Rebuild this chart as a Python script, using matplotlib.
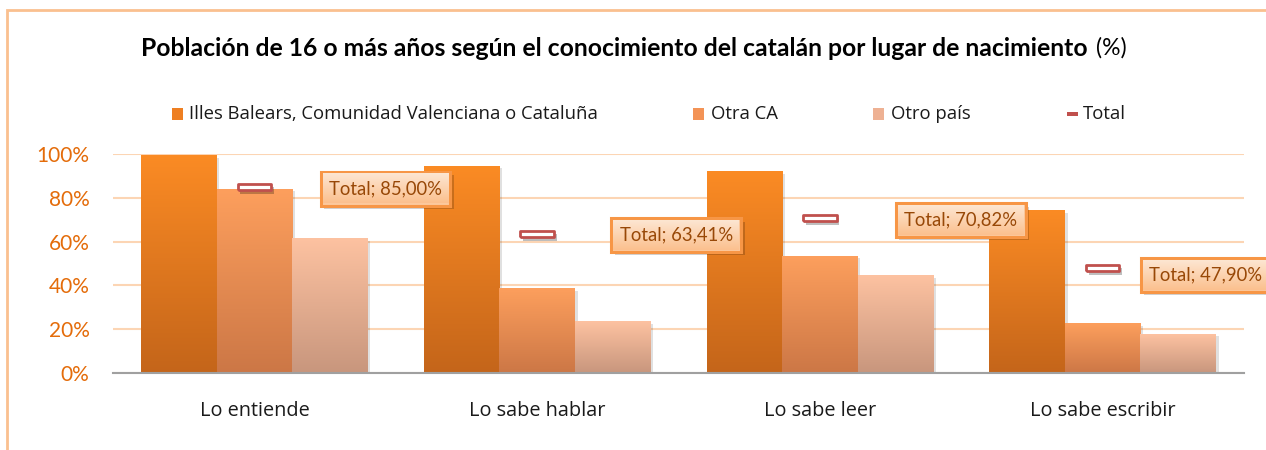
import numpy as np
import matplotlib
matplotlib.use('Agg')
import matplotlib.pyplot as plt
from matplotlib.colors import LinearSegmentedColormap
from matplotlib.patches import Rectangle
import matplotlib.patheffects as pe

# ---------------- data ----------------
categories = ['Lo entiende', 'Lo sabe hablar', 'Lo sabe leer', 'Lo sabe escribir']
series_names = ['Illes Balears, Comunidad Valenciana o Cataluña', 'Otra CA', 'Otro país']
nacidos_ib_cv_cat = [99.1, 94.5, 91.8, 74.0]
otra_ca = [84.0, 38.4, 53.4, 22.4]
otro_pais = [61.2, 23.3, 44.3, 17.8]
total = [85.00, 63.41, 70.82, 47.90]
total_name = 'Total'
yticks = [0, 20, 40, 60, 80, 100]
title_bold = 'Población de 16 o más años según el conocimiento del catalán por lugar de nacimiento'
title_rest = '(%)'

# ---------------- layout / style ----------------
W, H = 1266, 450
plt.rcParams['font.family'] = ['Open Sans', 'DejaVu Sans']
fig = plt.figure(figsize=(W / 100, H / 100), dpi=100)
fig.patch.set_facecolor('white')
ax = fig.add_axes([113 / W, 1 - 373 / H, (1244 - 113) / W, (373 - 154) / H])
ax.set_facecolor('none')

x = np.arange(len(categories))
bw = 0.267
series = [nacidos_ib_cv_cat, otra_ca, otro_pais]
grads = [('#fb8b24', '#c4651a'), ('#fd9f5d', '#cc7746'), ('#fdc2a1', '#c8967d')]
legend_sq = ['#ee7f22', '#f39356', '#eeb193']
grad_arr = np.linspace(0, 1, 256).reshape(-1, 1)

for k, (vals, (top, bot)) in enumerate(zip(series, grads)):
    bars = ax.bar(x + (k - 1) * bw, vals, width=bw, color=top, zorder=2, linewidth=0)
    cmap = LinearSegmentedColormap.from_list('g%d' % k, [bot, top])
    for b in bars:
        b.set_path_effects([pe.SimplePatchShadow(offset=(2, -1.5), shadow_rgbFace='black', alpha=0.12),
                            pe.Normal()])
        ax.imshow(grad_arr, extent=[b.get_x(), b.get_x() + b.get_width(), 0, b.get_height()],
                  origin='lower', cmap=cmap, aspect='auto', zorder=2.1, interpolation='bilinear')

# total markers
rect = [(-1, -0.2), (1, -0.2), (1, 0.2), (-1, 0.2), (-1, -0.2)]
ax.plot(x, total, linestyle='none', marker=rect, markersize=24, mfc='white', mec='#c0504d',
        mew=2, zorder=4,
        path_effects=[pe.SimplePatchShadow(offset=(2, -2.5), shadow_rgbFace='black', alpha=0.25), pe.Normal()])

ax.set_xlim(-0.5, len(categories) - 0.5)
ax.set_ylim(0, 100)
ax.set_yticks(yticks)
ax.set_yticklabels([f'{v}%' for v in yticks], family=['Lato', 'DejaVu Sans'])
ax.tick_params(axis='y', length=0, pad=17, labelsize=15, labelcolor='#e46c0a')
ax.set_xticks(x)
ax.set_xticklabels(categories)
ax.tick_params(axis='x', length=0, pad=20, labelsize=14.3, labelcolor='#1a1a1a')
for s in ['top', 'right', 'left']:
    ax.spines[s].set_visible(False)
ax.spines['bottom'].set_color('#a0a0a0')
ax.spines['bottom'].set_linewidth(1.5)
ax.spines['bottom'].set_zorder(3)
ax.set_axisbelow(True)
ax.yaxis.grid(True, color='#fcd5b4', linewidth=1.5)

# data labels for total
label_offsets = [(131, -2), (139, -1), (141, -2), (103, -7)]
labels = []
label_texts = []
for i, v in enumerate(total):
    txt = f'{total_name}; {v:.2f}%'.replace('.', ',')
    kw = dict(xy=(x[i], v), xytext=label_offsets[i], textcoords='offset pixels', ha='center',
              va='center', fontsize=14, color='#984807', family=['Lato', 'DejaVu Sans'],
              annotation_clip=False)
    t = ax.annotate(txt, zorder=6,
                    bbox=dict(boxstyle='square,pad=0.45', fc='#fcc89c', ec='#f79646', lw=2.2), **kw)
    t.get_bbox_patch().set_path_effects([pe.SimplePatchShadow(offset=(2.5, -2.5), shadow_rgbFace='black', alpha=0.18),
                                         pe.Normal()])
    t2 = ax.annotate(txt, zorder=6.2, **kw)
    labels.append(t)
    label_texts.append(t2)

# title
title = fig.text(141 / W, 1 - 48 / H, title_bold, ha='left', va='center', fontsize=15,
                 fontweight='bold', color='black', family=['Lato', 'DejaVu Sans'])
# legend texts
leg_x_sq = [172, 693, 873]
leg_x_tx = [189, 711, 891]
leg_y = 114
leg_texts = []
for i, name in enumerate(series_names):
    leg_texts.append(fig.text(leg_x_tx[i] / W, 1 - leg_y / H, name, ha='left', va='center',
                              fontsize=12, color='#1a1a1a'))
    fig.add_artist(Rectangle((leg_x_sq[i] / W, 1 - (leg_y + 5.5) / H), 11 / W, 11 / H,
                             transform=fig.transFigure, color=legend_sq[i], lw=0))
fig.add_artist(Rectangle((1067 / W, 1 - (leg_y + 1.8) / H), 11 / W, 3.6 / H,
                         transform=fig.transFigure, color='#c0504d', lw=0))
leg_texts.append(fig.text(1083 / W, 1 - leg_y / H, total_name, ha='left', va='center',
                          fontsize=12, color='#1a1a1a'))

# fit sizes
fig.canvas.draw()
r = fig.canvas.get_renderer()
w = title.get_window_extent(r).width
title.set_fontsize(title.get_fontsize() * 952 / w)
w = leg_texts[0].get_window_extent(r).width
fs = leg_texts[0].get_fontsize() * 406 / w
for t in leg_texts:
    t.set_fontsize(fs)
w = label_texts[0].get_window_extent(r).width
lfs = label_texts[0].get_fontsize() * 114 / w
for t in labels + label_texts:
    t.set_fontsize(lfs)
fig.canvas.draw()
bb = title.get_window_extent(r)
fig.text((bb.x1 + 8) / W, 1 - 48 / H, title_rest, ha='left', va='center', fontsize=title.get_fontsize() * 0.93,
         color='black', family=['Lato', 'DejaVu Sans'])

# gradient fill inside label boxes
box_cmap = LinearSegmentedColormap.from_list('box', ['#fbc08e', '#fde6d2'])
inv = ax.transData.inverted()
for t in labels:
    pb = t.get_bbox_patch().get_window_extent(r)
    (x0, y0) = inv.transform((pb.x0 + 2.2, pb.y0 + 2.2))
    (x1, y1) = inv.transform((pb.x1 - 2.2, pb.y1 - 2.2))
    ax.imshow(grad_arr, extent=[x0, x1, y0, y1], origin='lower', cmap=box_cmap, aspect='auto',
              zorder=6.1, clip_on=False, interpolation='bilinear')
ax.set_xlim(-0.5, len(categories) - 0.5)
ax.set_ylim(0, 100)

# outer chart border
fig.add_artist(Rectangle((7 / W, -0.1), 1.2, 1 - 10 / H + 0.1, transform=fig.transFigure,
                         fill=False, ec='#fac08f', lw=2))

fig.savefig('out.png', dpi=100)
